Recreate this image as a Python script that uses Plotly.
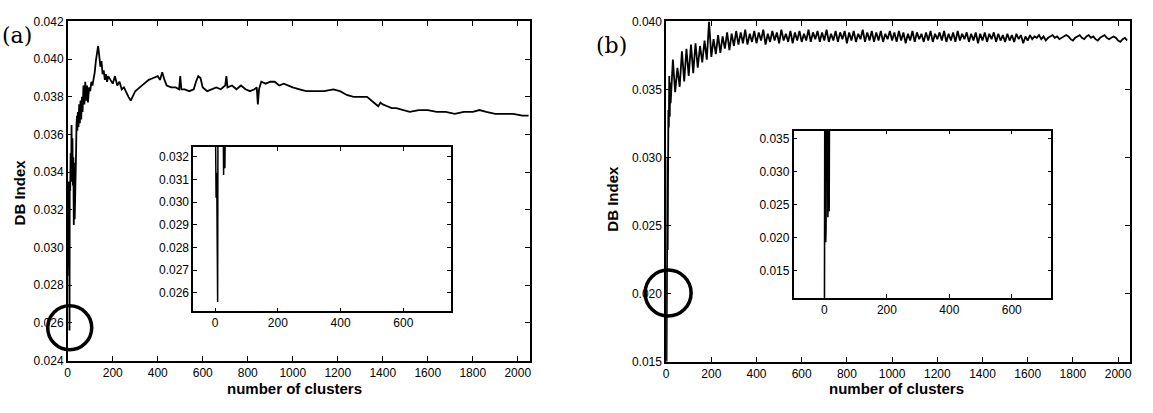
import plotly.graph_objects as go

# ---------------- data: panel (a) ----------------
clusters_a = [1, 3, 5, 6, 7, 8, 9, 11, 13, 15, 17, 19, 21, 23, 25, 27, 29, 31, 33, 35, 37, 39, 41, 43, 45,
              48, 51, 54, 57, 60, 63, 66, 70, 74, 78, 82, 86, 90, 95, 100, 105, 110, 115, 120, 125, 130,
              135, 140, 145, 150, 155, 160, 165, 170, 175, 180, 190, 200, 210, 220, 230, 240, 250, 260,
              270, 280, 290, 300, 320, 340, 360, 380, 400, 410, 420, 430, 440, 460, 480, 495, 500, 505,
              520, 540, 560, 570, 580, 590, 600, 620, 640, 660, 680, 700, 705, 710, 730, 750, 770, 790,
              810, 830, 840, 845, 850, 860, 880, 900, 920, 940, 960, 980, 1000, 1030, 1060, 1100, 1140,
              1180, 1210, 1240, 1270, 1300, 1330, 1360, 1380, 1390, 1400, 1420, 1440, 1460, 1490, 1520,
              1560, 1600, 1640, 1680, 1720, 1760, 1800, 1830, 1860, 1900, 1940, 1980, 2020, 2048]
db_a = [0.0335, 0.0302, 0.0313, 0.0285, 0.0297, 0.0256, 0.0335, 0.0330, 0.0350, 0.0335, 0.0365, 0.0338,
        0.0358, 0.0333, 0.0348, 0.0312, 0.0345, 0.0315, 0.0340, 0.0325, 0.0350, 0.0365, 0.0370, 0.0362,
        0.0372,
        0.0364, 0.0376, 0.0366, 0.0378, 0.0368, 0.0380, 0.0372, 0.0386, 0.0376, 0.0388, 0.0378, 0.0386,
        0.0377, 0.0385, 0.0383, 0.0388, 0.0386, 0.0389, 0.0393, 0.0399, 0.0404, 0.0407, 0.0402, 0.0396,
        0.0399, 0.0392, 0.0394, 0.0389, 0.0392, 0.0388, 0.0391, 0.0389, 0.0387, 0.0391, 0.0386, 0.0388,
        0.0384, 0.0385, 0.0382, 0.0380, 0.0378, 0.0381, 0.0383, 0.0385, 0.0387, 0.0389, 0.0390, 0.0391,
        0.0389, 0.0393, 0.0389, 0.0386, 0.0385, 0.0385, 0.0384, 0.0391, 0.0384, 0.0384, 0.0383, 0.0384,
        0.0388, 0.0391, 0.0390, 0.0385, 0.0383, 0.0384, 0.0385, 0.0384, 0.0386, 0.0391, 0.0385, 0.0386,
        0.0384, 0.0386, 0.0384, 0.0383, 0.0384, 0.0385, 0.0376, 0.0384, 0.0388, 0.0387, 0.0388, 0.0388,
        0.0386, 0.0387, 0.0386, 0.0385, 0.0384, 0.0383, 0.0383, 0.0383, 0.0384, 0.0383, 0.0381, 0.0380,
        0.0380, 0.0380, 0.0377, 0.0375, 0.0377, 0.0376, 0.0375, 0.0374, 0.0374, 0.0373, 0.0372, 0.0373,
        0.0373, 0.0372, 0.0372, 0.0371, 0.0372, 0.0372, 0.0373, 0.0372, 0.0371, 0.0371, 0.0371, 0.0370,
        0.0370]

# ---------------- data: panel (b) ----------------
clusters_b_early = [1, 2, 3, 4, 5, 6, 7, 8, 9, 10, 12, 14, 16, 18, 20]
db_b_early = [0.0105, 0.0200, 0.0216, 0.0192, 0.0245, 0.0300, 0.0232, 0.0318, 0.0262, 0.0335, 0.0322,
              0.0360, 0.0330, 0.0355, 0.0340]
clusters_b_rest = list(range(30, 2050, 10))
db_b_rest = [
    0.0372, 0.0348, 0.0366, 0.0352, 0.0378, 0.0356, 0.0380, 0.0360, 0.0383, 0.0362,
    0.0384, 0.0366, 0.0382, 0.0370, 0.0386, 0.0372, 0.0400, 0.0374, 0.0387, 0.0376,
    0.0390, 0.0377, 0.0389, 0.0380, 0.0392, 0.0379, 0.0391, 0.0382, 0.0393, 0.0383,
    0.0392, 0.0384, 0.0394, 0.0383, 0.0391, 0.0385, 0.0393, 0.0384, 0.0392, 0.0386,
    0.0394, 0.0383, 0.0391, 0.0385, 0.0393, 0.0386, 0.0392, 0.0384, 0.0394, 0.0386,
    0.0391, 0.0385, 0.0393, 0.0384, 0.0392, 0.0386, 0.0393, 0.0385, 0.0391, 0.0386,
    0.0394, 0.0385, 0.0392, 0.0387, 0.0393, 0.0385, 0.0392, 0.0386, 0.0394, 0.0385,
    0.0391, 0.0386, 0.0393, 0.0385, 0.0392, 0.0387, 0.0393, 0.0384, 0.0392, 0.0386,
    0.0393, 0.0385, 0.0391, 0.0387, 0.0394, 0.0385, 0.0392, 0.0386, 0.0393, 0.0385,
    0.0392, 0.0386, 0.0393, 0.0385, 0.0391, 0.0387, 0.0393, 0.0386, 0.0392, 0.0385,
    0.0393, 0.0386, 0.0392, 0.0384, 0.0391, 0.0386, 0.0393, 0.0385, 0.0392, 0.0387,
    0.0391, 0.0385, 0.0392, 0.0386, 0.0393, 0.0385, 0.0391, 0.0387, 0.0392, 0.0386,
    0.0393, 0.0385, 0.0391, 0.0386, 0.0392, 0.0385, 0.0393, 0.0386, 0.0391, 0.0387,
    0.0392, 0.0385, 0.0391, 0.0386, 0.0392, 0.0384, 0.0391, 0.0386, 0.0392, 0.0385,
    0.0391, 0.0387, 0.0392, 0.0385, 0.0391, 0.0386, 0.0390, 0.0385, 0.0391, 0.0386,
    0.0390, 0.0385, 0.0391, 0.0387, 0.0390, 0.0384, 0.0389, 0.0386, 0.0390, 0.0387,
    0.0389, 0.0388, 0.0390, 0.0387, 0.0389, 0.0386, 0.0388, 0.0389, 0.0390, 0.0388,
    0.0389, 0.0387, 0.0388, 0.0389, 0.0390, 0.0389, 0.0387, 0.0386, 0.0388, 0.0389,
    0.0390, 0.0388, 0.0387, 0.0389, 0.0390, 0.0388, 0.0389, 0.0387, 0.0386, 0.0388,
    0.0389, 0.0390, 0.0388, 0.0387, 0.0388, 0.0389, 0.0388, 0.0386, 0.0385, 0.0387,
    0.0388, 0.0386]

# zoomed view of the first clusters in panel (b), as drawn in its inset
inset_clusters_b = [0, 1, 2, 3, 4, 5, 6, 10, 11, 12, 13, 14, 15, 16, 30, 100, 700]
inset_db_b = [0.0100, 0.0380, 0.0196, 0.0215, 0.0193, 0.0214, 0.0380, 0.0380, 0.0231, 0.0380, 0.0235,
              0.0380, 0.0240, 0.0385, 0.0388, 0.0390, 0.0390]

assert len(clusters_a) == len(db_a)
assert len(clusters_b_rest) == len(db_b_rest)
assert len(inset_clusters_b) == len(inset_db_b)
clusters_b = clusters_b_early + clusters_b_rest
db_b = db_b_early + db_b_rest

main_x_ticks = [0, 200, 400, 600, 800, 1000, 1200, 1400, 1600, 1800, 2000]
a_y_ticks = [0.024, 0.026, 0.028, 0.030, 0.032, 0.034, 0.036, 0.038, 0.040, 0.042]
b_y_ticks = [0.015, 0.020, 0.025, 0.030, 0.035, 0.040]
inset_x_ticks = [0, 200, 400, 600]
a_inset_y_ticks = [0.026, 0.027, 0.028, 0.029, 0.030, 0.031, 0.032]
b_inset_y_ticks = [0.015, 0.020, 0.025, 0.030, 0.035]

W, H = 1153, 413
def px_x(a, b):
    return [a / W, b / W]
def px_y(top, bottom):
    return [1 - bottom / H, 1 - top / H]

TICKFONT = dict(family="Liberation Sans Narrow, Arial Narrow, Liberation Sans, Arial", size=12, color="black")

def axis_style(domain, rng, ticks, fmt=None, anchor=None, ticklen=5):
    d = dict(domain=domain, range=rng, tickvals=ticks, showline=True, linecolor="black", linewidth=1.5,
             mirror="ticks", ticks="inside", ticklen=ticklen, tickcolor="black", tickwidth=1,
             showgrid=False, zeroline=False, tickfont=TICKFONT, anchor=anchor, fixedrange=True)
    if fmt:
        d["tickformat"] = fmt
    return d

fig = go.Figure()
line_a = dict(color="black", width=1.8)
fig.add_trace(go.Scatter(x=clusters_a, y=db_a, mode="lines", line=line_a, xaxis="x", yaxis="y", showlegend=False))
fig.add_trace(go.Scatter(x=clusters_a, y=db_a, mode="lines", line=dict(color="black", width=1.5), xaxis="x2", yaxis="y2", showlegend=False))
fig.add_trace(go.Scatter(x=clusters_b, y=db_b, mode="lines", line=dict(color="black", width=1.8), xaxis="x3", yaxis="y3", showlegend=False))
fig.add_trace(go.Scatter(x=inset_clusters_b, y=inset_db_b, mode="lines", line=dict(color="black", width=1.6), xaxis="x4", yaxis="y4", showlegend=False))

fig.update_layout(
    width=W, height=H, margin=dict(l=0, r=0, t=0, b=0),
    paper_bgcolor="white", plot_bgcolor="white",
    xaxis=axis_style(px_x(65, 529), [0, 2053], main_x_ticks, anchor="y"),
    yaxis=axis_style(px_y(15, 366), [0.024, 0.042], a_y_ticks, ".3f", anchor="x"),
    xaxis2=axis_style(px_x(191, 450), [-70, 752], inset_x_ticks, anchor="y2", ticklen=4),
    yaxis2=axis_style(px_y(145, 315), [0.02519, 0.03243], a_inset_y_ticks, ".3f", anchor="x2", ticklen=4),
    xaxis3=axis_style(px_x(666, 1132), [0, 2053], main_x_ticks, anchor="y3"),
    yaxis3=axis_style(px_y(15, 367), [0.015, 0.040], b_y_ticks, ".3f", anchor="x3"),
    xaxis4=axis_style(px_x(794, 1053), [-99, 727], inset_x_ticks, anchor="y4", ticklen=4),
    yaxis4=axis_style(px_y(128, 301), [0.01092, 0.03617], b_inset_y_ticks, ".3f", anchor="x4", ticklen=4),
)

# circles marking the minimum region (paper-referenced so they are not clipped)
fig.add_shape(type="circle", xref="paper", yref="paper", xsizemode="pixel", ysizemode="pixel",
              xanchor=67 / W, yanchor=1 - 332 / H, x0=-22, x1=22, y0=-22, y1=22,
              line=dict(color="black", width=3.5))
fig.add_shape(type="circle", xref="paper", yref="paper", xsizemode="pixel", ysizemode="pixel",
              xanchor=668 / W, yanchor=1 - 296 / H, x0=-23, x1=23, y0=-23, y1=23,
              line=dict(color="black", width=3.5))

TITLEFONT = dict(family="Liberation Sans, Arial", size=15, color="black")
ann = [
    dict(text="(a)", x=-3 / W, y=1 - 30 / H, xanchor="left", yanchor="middle",
         font=dict(family="DejaVu Serif, Liberation Serif, serif", size=22, color="black")),
    dict(text="(b)", x=594 / W, y=1 - 40 / H, xanchor="left", yanchor="middle",
         font=dict(family="DejaVu Serif, Liberation Serif, serif", size=22, color="black")),
    dict(text="<b>number of clusters</b>", x=293 / W, y=1 - 395 / H, xanchor="center", yanchor="middle",
         font=TITLEFONT),
    dict(text="<b>number of clusters</b>", x=897 / W, y=1 - 395 / H, xanchor="center", yanchor="middle",
         font=TITLEFONT),
    dict(text="<b>DB Index</b>", x=17 / W, y=1 - 192 / H, xanchor="center", yanchor="middle", textangle=-90,
         font=TITLEFONT),
    dict(text="<b>DB Index</b>", x=612 / W, y=1 - 198 / H, xanchor="center", yanchor="middle", textangle=-90,
         font=TITLEFONT),
]
for a in ann:
    a.update(xref="paper", yref="paper", showarrow=False)
    fig.add_annotation(**a)

fig.write_html("out.html")
